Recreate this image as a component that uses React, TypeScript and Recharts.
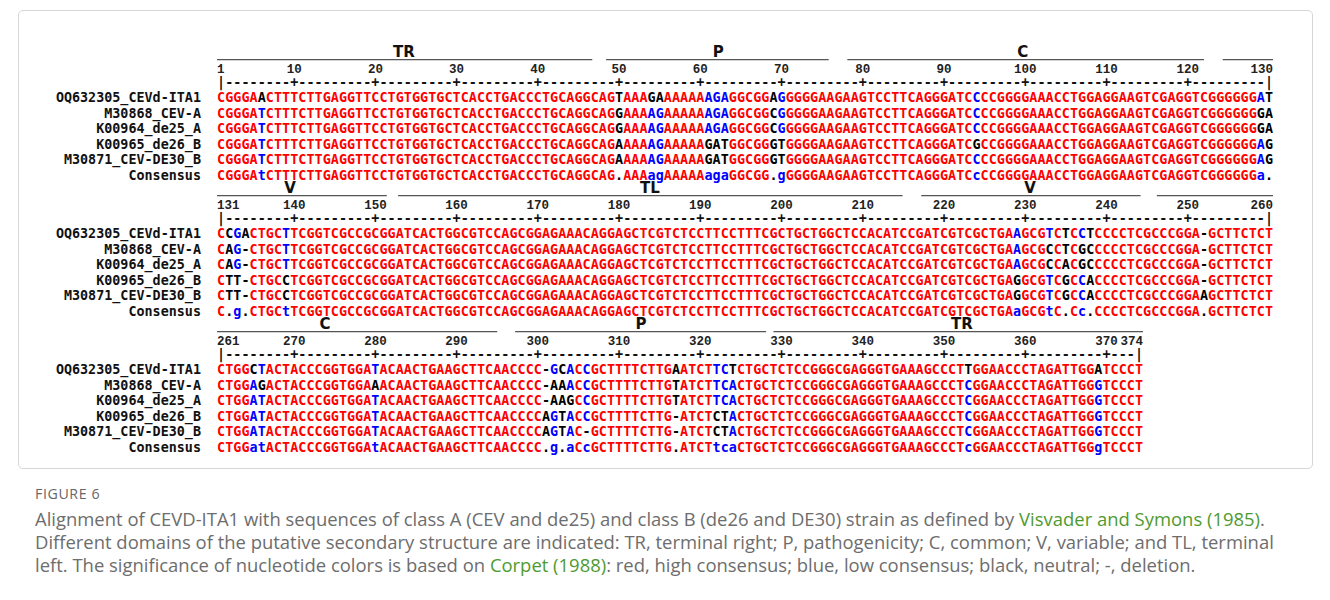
import React from 'react';
import { ComposedChart, Scatter, XAxis, YAxis, ReferenceLine } from 'recharts';

// rows of the alignment, typed in groups of ten (spaces are removed below)
const seqNames = ['OQ632305_CEVd-ITA1', 'M30868_CEV-A', 'K00964_de25_A', 'K00965_de26_B', 'M30871_CEV-DE30_B', 'Consensus'];

const seqITA1 =
  'CGGGAACTTT CTTGAGGTTC CTGTGGTGCT CACCTGACCC TGCAGGCAGT AAAGAAAAAA AGAGGCGGAG GGGGAAGAAG TCCTTCAGGG ATCCCCGGGG AAACCTGGAG GAAGTCGAGG TCGGGGGGAT ' +
  'CCGACTGCTT CGGTCGCCGC GGATCACTGG CGTCCAGCGG AGAAACAGGA GCTCGTCTCC TTCCTTTCGC TGCTGGCTCC ACATCCGATC GTCGCTGAAG CGTCTCCTCC CCTCGCCCGG A-GCTTCTCT ' +
  'CTGGCTACTA CCCGGTGGAT ACAACTGAAG CTTCAACCCC -GCACCGCTT TTCTTGAATC TTCTCTGCTC TCCGGGCGAG GGTGAAAGCC CTTGGAACCC TAGATTGGAT CCCT';
const seqCEVA =
  'CGGGATCTTT CTTGAGGTTC CTGTGGTGCT CACCTGACCC TGCAGGCAGG AAAAGAAAAA AGAGGCGGCG GGGGAAGAAG TCCTTCAGGG ATCCCCGGGG AAACCTGGAG GAAGTCGAGG TCGGGGGGGA ' +
  'CAG-CTGCTT CGGTCGCCGC GGATCACTGG CGTCCAGCGG AGAAACAGGA GCTCGTCTCC TTCCTTTCGC TGCTGGCTCC ACATCCGATC GTCGCTGAAG CGCCTCGCCC CCTCGCCCGG A-GCTTCTCT ' +
  'CTGGAGACTA CCCGGTGGAA ACAACTGAAG CTTCAACCCC -AAACCGCTT TTCTTGTATC TTCACTGCTC TCCGGGCGAG GGTGAAAGCC CTCGGAACCC TAGATTGGGT CCCT';
const seqDe25 =
  'CGGGATCTTT CTTGAGGTTC CTGTGGTGCT CACCTGACCC TGCAGGCAGG AAAAGAAAAA AGAGGCGGCG GGGGAAGAAG TCCTTCAGGG ATCCCCGGGG AAACCTGGAG GAAGTCGAGG TCGGGGGGGA ' +
  'CAG-CTGCTT CGGTCGCCGC GGATCACTGG CGTCCAGCGG AGAAACAGGA GCTCGTCTCC TTCCTTTCGC TGCTGGCTCC ACATCCGATC GTCGCTGAAG CGCCACGCCC CCTCGCCCGG A-GCTTCTCT ' +
  'CTGGATACTA CCCGGTGGAT ACAACTGAAG CTTCAACCCC -AAGCCGCTT TTCTTGTATC TTCACTGCTC TCCGGGCGAG GGTGAAAGCC CTCGGAACCC TAGATTGGGT CCCT';
const seqDe26 =
  'CGGGATCTTT CTTGAGGTTC CTGTGGTGCT CACCTGACCC TGCAGGCAGA AAAAGAAAAA GATGGCGGGT GGGGAAGAAG TCCTTCAGGG ATCGCCGGGG AAACCTGGAG GAAGTCGAGG TCGGGGGGAG ' +
  'CTT-CTGCCT CGGTCGCCGC GGATCACTGG CGTCCAGCGG AGAAACAGGA GCTCGTCTCC TTCCTTTCGC TGCTGGCTCC ACATCCGATC GTCGCTGAGG CGTCGCCACC CCTCGCCCGG A-GCTTCTCT ' +
  'CTGGATACTA CCCGGTGGAT ACAACTGAAG CTTCAACCCC AGTACCGCTT TTCTTG-ATC TCTACTGCTC TCCGGGCGAG GGTGAAAGCC CTCGGAACCC TAGATTGGGT CCCT';
const seqDE30 =
  'CGGGATCTTT CTTGAGGTTC CTGTGGTGCT CACCTGACCC TGCAGGCAGA AAAAGAAAAA GATGGCGGGT GGGGAAGAAG TCCTTCAGGG ATCCCCGGGG AAACCTGGAG GAAGTCGAGG TCGGGGGGAG ' +
  'CTT-CTGCCT CGGTCGCCGC GGATCACTGG CGTCCAGCGG AGAAACAGGA GCTCGTCTCC TTCCTTTCGC TGCTGGCTCC ACATCCGATC GTCGCTGAGG CGTCGCCACC CCTCGCCCGG AAGCTTCTCT ' +
  'CTGGATACTA CCCGGTGGAT ACAACTGAAG CTTCAACCCC AGTAC-GCTT TTCTTG-ATC TCTACTGCTC TCCGGGCGAG GGTGAAAGCC CTCGGAACCC TAGATTGGGT CCCT';
const seqConsensus =
  'CGGGAtCTTT CTTGAGGTTC CTGTGGTGCT CACCTGACCC TGCAGGCAG. AAAagAAAAA agaGGCGG.g GGGGAAGAAG TCCTTCAGGG ATCcCCGGGG AAACCTGGAG GAAGTCGAGG TCGGGGGGa. ' +
  'C.g.CTGCtT CGGTCGCCGC GGATCACTGG CGTCCAGCGG AGAAACAGGA GCTCGTCTCC TTCCTTTCGC TGCTGGCTCC ACATCCGATC GTCGCTGAaG CGtC.Cc.CC CCTCGCCCGG A.GCTTCTCT ' +
  'CTGGatACTA CCCGGTGGAt ACAACTGAAG CTTCAACCCC .g.aCcGCTT TTCTTG.ATC TtcaCTGCTC TCCGGGCGAG GGTGAAAGCC CTcGGAACCC TAGATTGGgT CCCT';

// alignment is printed in three blocks
const blockStart = [1, 131, 261];
const blockEnd = [130, 260, 374];

// domains of the secondary structure (nucleotide positions)
const domainName = ['TR', 'P', 'C', 'V', 'TL', 'V', 'C', 'P', 'TR'];
const domainFrom = [0.5, 48.4, 78.1, 124.3, 152.8, 217.2, 246.2, 297.2, 329];
const domainTo = [46.7, 75.8, 122, 151.4, 214.9, 244.2, 295, 328.1, 374.5];
const domainLabelAt = [23.5, 62.2, 99.7, 139.5, 183.8, 230.6, 273.8, 312.7, 352.2];

const RED = '#ff0000';
const BLUE = '#0000ff';
const BLACK = '#000000';

const W = 1330;
const BLOCK_PITCH = 136;
const CHART_H = 150;
const ROW = 15.6;
const PLOT_LEFT = 217;
const PLOT_RIGHT = 1273;
const Y_MIN = -3.6;
const Y_MAX = Y_MIN + CHART_H / ROW;
const FIRST_ROW_Y = 97;
const BLOCK_TOP = FIRST_ROW_Y + Y_MIN * ROW;

// vertical places inside a block, in row units
const Y_LABEL = -2.93;
const Y_BAR = -2.4;
const Y_NUM = -1.83;
const Y_RULER = -0.99;

const SEQ_FONT = '"DejaVu Sans Mono", monospace';
const SEQ_FS = 13.4;

const clean = (s: string) => s.replace(/ /g, '');
const rows = [seqITA1, seqCEVA, seqDe25, seqDe26, seqDE30].map(clean);
const consensus = clean(seqConsensus);

const residueColor = (ch: string, cons: string) => {
  if (cons === '.') return BLACK;
  if (cons === cons.toUpperCase()) return ch === cons ? RED : BLACK;
  return ch.toUpperCase() === cons.toUpperCase() ? BLUE : BLACK;
};
const consColor = (cons: string) => (cons === '.' ? BLACK : cons === cons.toUpperCase() ? RED : BLUE);

const buildBlock = (b: number) => {
  const s = blockStart[b];
  const e = blockEnd[b];
  const residues: any[] = [];
  const ruler: any[] = [];
  const numbers: any[] = [];
  for (let p = s; p <= e; p++) {
    const x = p - s + 1;
    const cons = consensus[p - 1];
    rows.forEach((row, r) => {
      residues.push({ x, y: r, ch: row[p - 1], color: residueColor(row[p - 1], cons) });
    });
    residues.push({ x, y: rows.length, ch: cons, color: consColor(cons) });
    ruler.push({ x, y: Y_RULER, ch: p === s || p === e ? '|' : p % 10 === 0 ? '+' : '-' });
    if (p === s) numbers.push({ x: x - 0.5, y: Y_NUM, label: String(p), anchor: 'start' });
    else if (p === e) numbers.push({ x: x + 0.5, y: Y_NUM, label: String(p), anchor: 'end' });
    else if (p % 10 === 0) numbers.push({ x, y: Y_NUM, label: String(p), anchor: 'middle' });
  }
  const bars = domainName
    .map((name, i) => ({
      name,
      lo: Math.max(domainFrom[i], s - 0.5) - s + 1,
      hi: Math.min(domainTo[i], e + 0.5) - s + 1,
    }))
    .filter((d) => d.hi > d.lo);
  const labels = domainName
    .map((name, i) => ({ x: domainLabelAt[i] - s + 1, y: Y_LABEL, label: name, at: domainLabelAt[i] }))
    .filter((d) => d.at >= s - 0.5 && d.at <= e + 0.5);
  return { residues, ruler, numbers, bars, labels };
};

const Residue = (props: any) => {
  const { cx, cy, payload } = props;
  return (
    <text x={cx} y={cy + SEQ_FS * 0.36} textAnchor="middle" fill={payload.color}
      fontFamily={SEQ_FONT} fontWeight="bold" fontSize={SEQ_FS}>
      {payload.ch}
    </text>
  );
};

const RulerMark = (props: any) => {
  const { cx, cy, payload } = props;
  return (
    <text x={cx} y={cy + SEQ_FS * 0.36} textAnchor="middle" fill="#111"
      fontFamily={SEQ_FONT} fontWeight="bold" fontSize={SEQ_FS}>
      {payload.ch}
    </text>
  );
};

const NumberMark = (props: any) => {
  const { cx, cy, payload } = props;
  return (
    <text x={cx} y={cy + 4} textAnchor={payload.anchor} fill="#222"
      fontFamily='"Liberation Mono", monospace' fontWeight="bold" fontSize={12.5}>
      {payload.label}
    </text>
  );
};

const DomainLabel = (props: any) => {
  const { cx, cy, payload } = props;
  return (
    <text x={cx} y={cy + 5.5} textAnchor="middle" fill="#111"
      fontFamily='"DejaVu Sans", sans-serif' fontWeight="bold" fontSize={15}>
      {payload.label}
    </text>
  );
};

const NameTick = (props: any) => {
  const { x, y, payload } = props;
  return (
    <text x={x} y={y + SEQ_FS * 0.36} textAnchor="end" fill="#111"
      fontFamily={SEQ_FONT} fontWeight="bold" fontSize={SEQ_FS}>
      {seqNames[payload.value]}
    </text>
  );
};

const AlignmentBlock = ({ b }: { b: number }) => {
  const { residues, ruler, numbers, bars, labels } = buildBlock(b);
  return (
    <ComposedChart width={W} height={CHART_H} margin={{ top: 0, right: W - PLOT_RIGHT, bottom: 0, left: 0 }}>
      <XAxis type="number" dataKey="x" domain={[0.5, 130.5]} allowDataOverflow hide />
      <YAxis type="number" dataKey="y" domain={[Y_MIN, Y_MAX]} reversed allowDataOverflow
        ticks={[0, 1, 2, 3, 4, 5]} interval={0} width={PLOT_LEFT}
        axisLine={false} tickLine={false} tickSize={0} tickMargin={16} tick={<NameTick />} />
      {bars.map((d, i) => (
        <ReferenceLine key={i} segment={[{ x: d.lo, y: Y_BAR }, { x: d.hi, y: Y_BAR }]}
          stroke="#555" strokeWidth={1.2} />
      ))}
      <Scatter data={labels} shape={<DomainLabel />} isAnimationActive={false} />
      <Scatter data={numbers} shape={<NumberMark />} isAnimationActive={false} />
      <Scatter data={ruler} shape={<RulerMark />} isAnimationActive={false} />
      <Scatter data={residues} shape={<Residue />} isAnimationActive={false} />
    </ComposedChart>
  );
};

const captionStyle: React.CSSProperties = {
  position: 'absolute',
  left: 35,
  whiteSpace: 'nowrap',
  fontFamily: '"Open Sans", sans-serif',
  fontSize: 18.45,
  lineHeight: '24px',
  color: '#6d6d6d',
};
const linkColor = '#4f9a2f';

export default function App() {
  return (
    <div style={{ position: 'relative', width: W, height: 600, background: '#fff', overflow: 'hidden' }}>
      <style>{'body{margin:0}'}</style>
      <div style={{ position: 'absolute', left: 18, top: 10, width: 1293, height: 457, border: '1px solid #d6d6d6', borderRadius: 5 }} />
      {blockStart.map((_, b) => (
        <div key={b} style={{ position: 'absolute', left: 0, top: BLOCK_TOP + b * BLOCK_PITCH }}>
          <AlignmentBlock b={b} />
        </div>
      ))}
      <div style={{ ...captionStyle, top: 482, fontSize: 14.2, letterSpacing: 0.6, color: '#666' }}>FIGURE 6</div>
      <div style={{ ...captionStyle, top: 507 }}>
        Alignment of CEVD-ITA1 with sequences of class A (CEV and de25) and class B (de26 and DE30) strain as defined by{' '}
        <span style={{ color: linkColor }}>Visvader and Symons (1985)</span>.
      </div>
      <div style={{ ...captionStyle, top: 530 }}>
        Different domains of the putative secondary structure are indicated: TR, terminal right; P, pathogenicity; C, common; V, variable; and TL, terminal
      </div>
      <div style={{ ...captionStyle, top: 553 }}>
        left. The significance of nucleotide colors is based on <span style={{ color: linkColor }}>Corpet (1988)</span>: red, high consensus; blue, low consensus; black, neutral; -, deletion.
      </div>
    </div>
  );
}
